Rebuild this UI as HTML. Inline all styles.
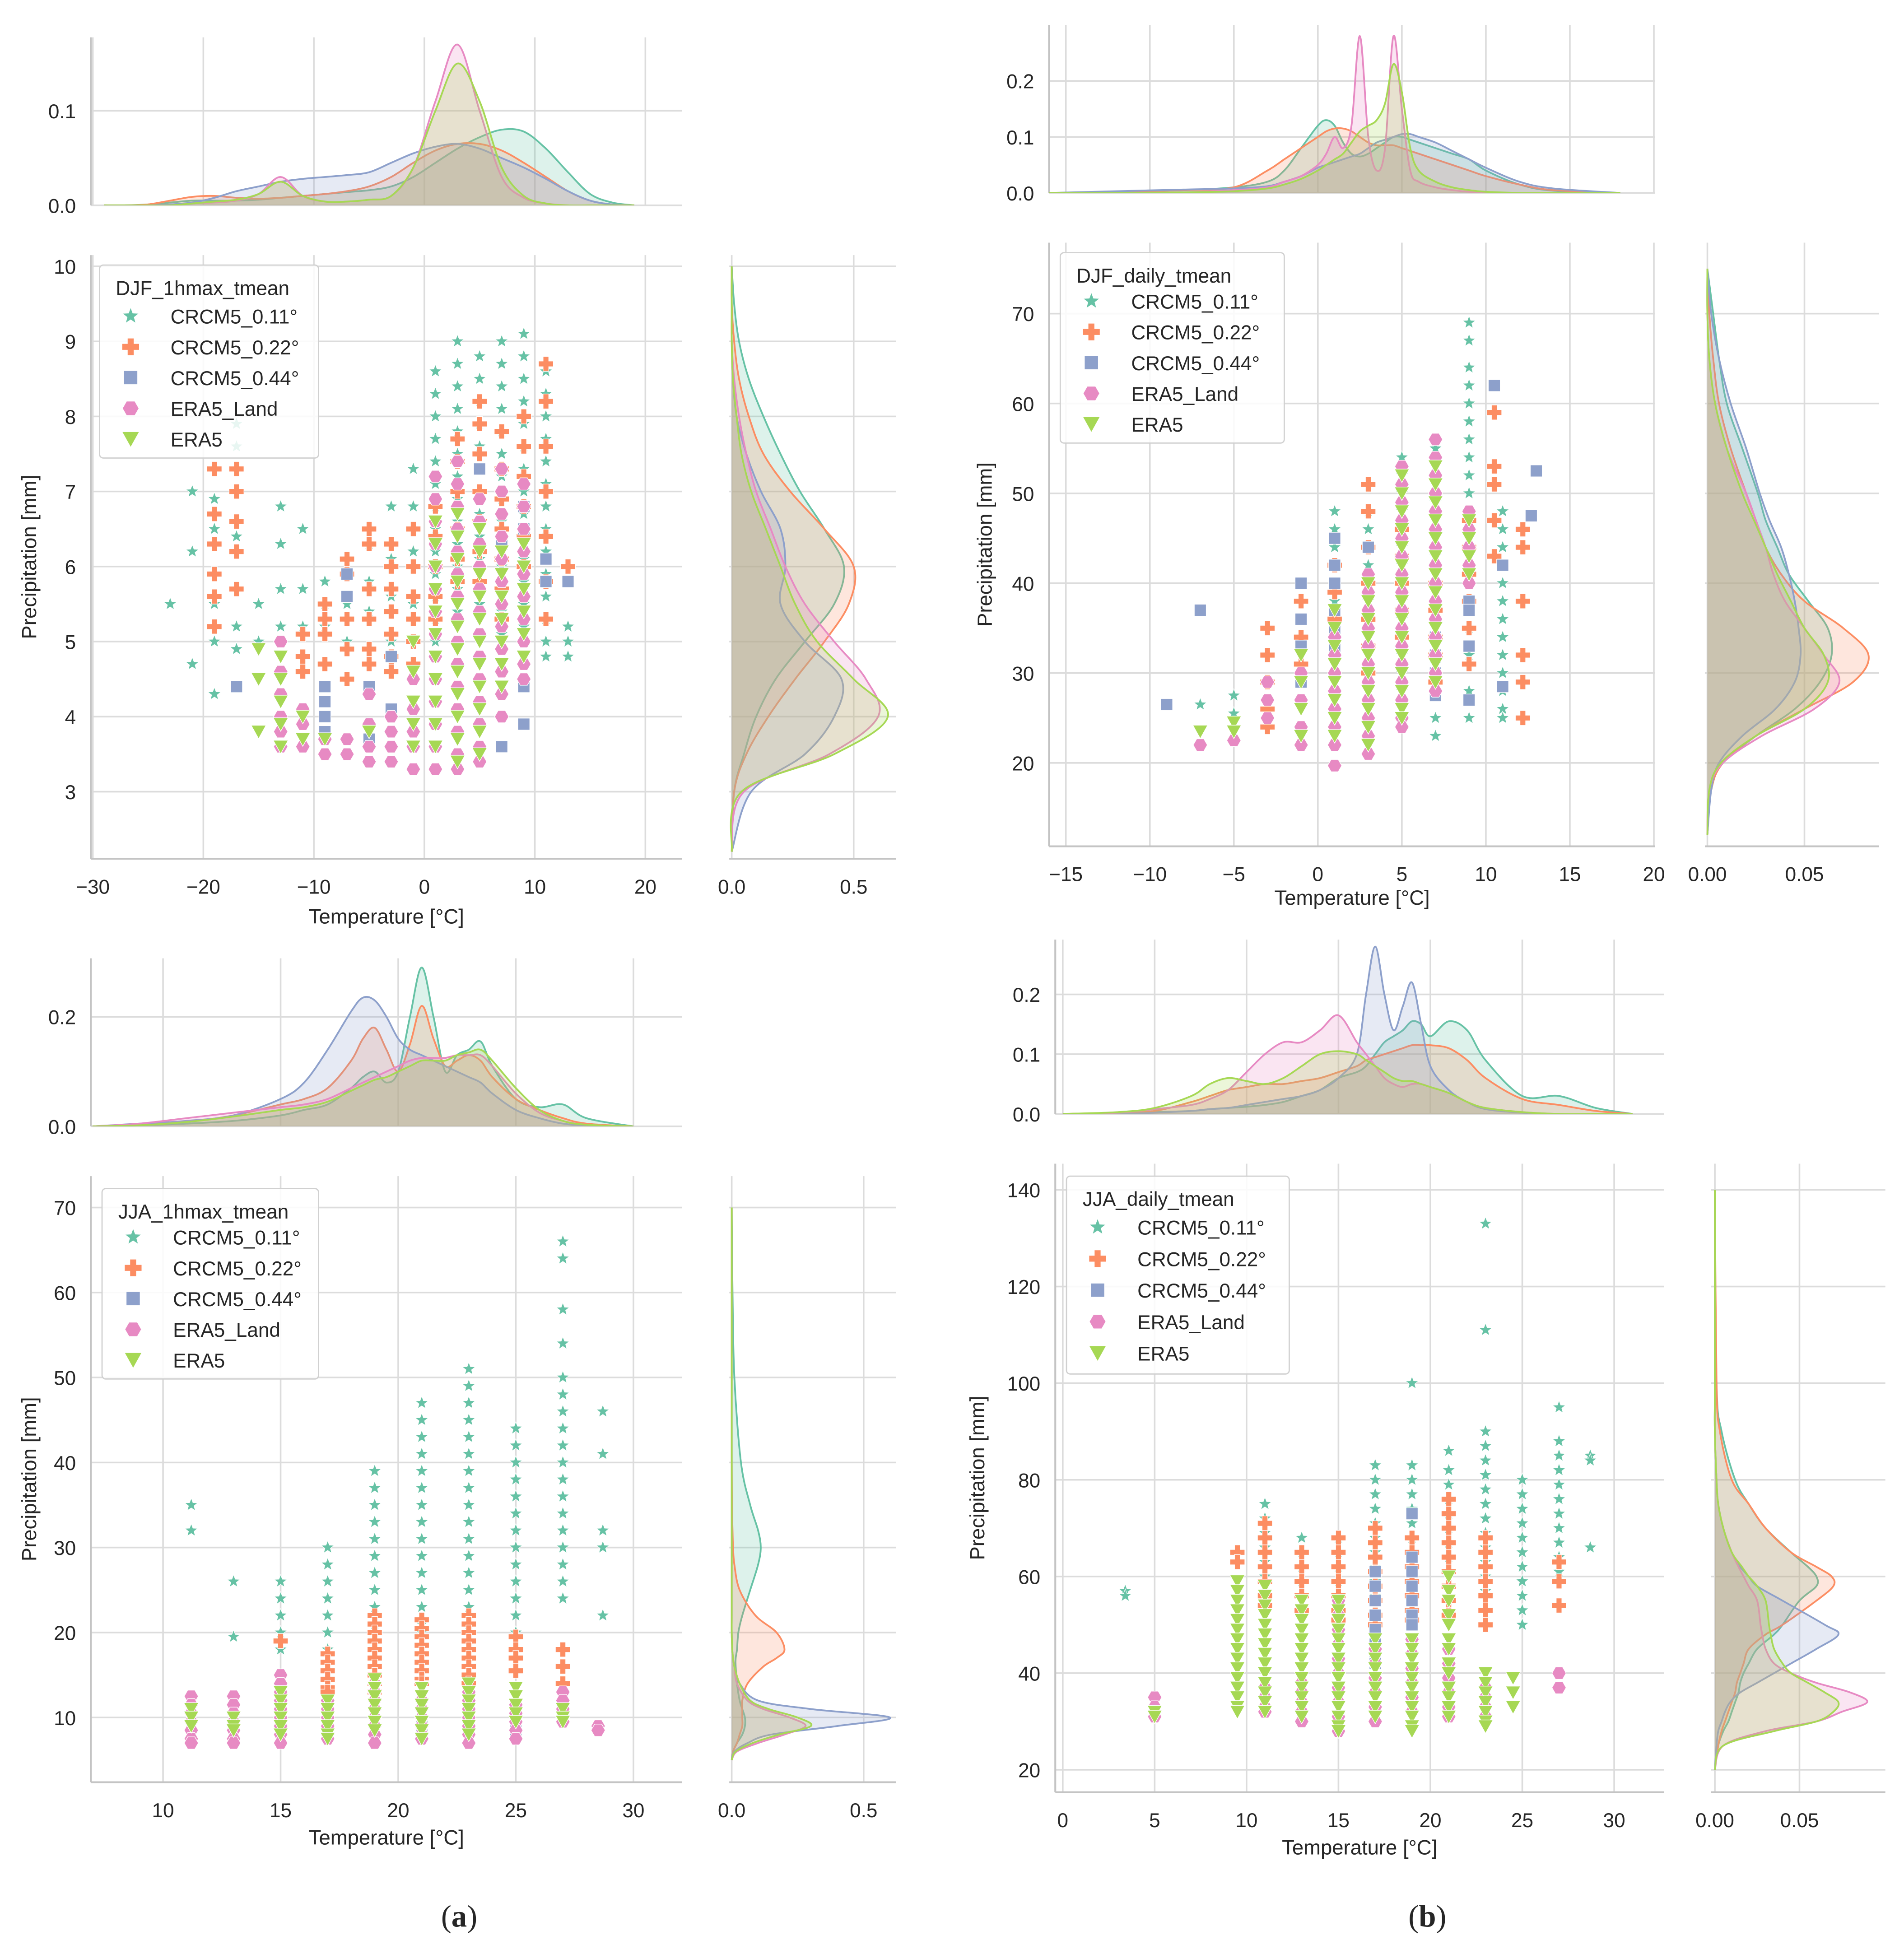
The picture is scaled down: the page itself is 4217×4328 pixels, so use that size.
<!DOCTYPE html>
<html><head><meta charset="utf-8">
<style>
html,body{margin:0;padding:0;background:#fff;}
svg{display:block;}
text{font-family:"Liberation Sans",Arial,sans-serif;fill:#262626;}
</style></head>
<body>
<svg id="fig" xmlns="http://www.w3.org/2000/svg" width="4217" height="4328" viewBox="0 0 1530 1570" preserveAspectRatio="none">
<rect x="0" y="0" width="1530" height="1570" fill="#fff"/>
<text x="369" y="1548" text-anchor="middle" font-size="25" style="font-family:'Liberation Serif',serif">(<tspan font-weight="bold">a</tspan>)</text>
<text x="1147" y="1548" text-anchor="middle" font-size="25" style="font-family:'Liberation Serif',serif">(<tspan font-weight="bold">b</tspan>)</text>
</svg>
<script>
const seriesNames = ["CRCM5_0.11°","CRCM5_0.22°","CRCM5_0.44°","ERA5_Land","ERA5"];
const seriesColors = ["#66c2a5","#fc8d62","#8da0cb","#e78ac3","#a6d854"];
const seriesKeys = ["crcm5-011","crcm5-022","crcm5-044","era5-land","era5"];

// ---------- Panel A: DJF_1hmax_tmean ----------
const A_xTicks = [-30,-20,-10,0,10,20];
const A_yTicks = [3,4,5,6,7,8,9,10];
const A_topTicks = [0,0.1];
const A_topTickLabels = ["0.0","0.1"];
const A_rightTicks = [0,0.5];
const A_rightTickLabels = ["0.0","0.5"];
const A_s011 = [[-23,[5.5]],[-21,[7.0,6.2,4.7]],[-19,[6.9,6.5,5.5,5.0,4.3]],[-17,[7.9,7.6,6.4,5.2,4.9]],[-15,[5.5,5.0]],[-13,[6.8,6.3,5.7,5.2]],[-11,[6.5,5.7,5.2]],[-9,[5.8,5.5,5.2]],[-7,[5.5,5.0]],[-5,[6.3,5.8,5.4]],[-3,[6.8,6.1,5.6,5.0]],[-1,[7.3,6.8,6.2,5.5]],[1,[8.6,8.3,8.0,7.7,7.4,7.1,6.8,6.5,6.2,5.9,5.6,5.3,5.0]],[3,[9.0,8.7,8.4,8.1,7.8,7.5,7.2,6.9,6.6,6.3,6.0,5.7,5.4]],[5,[8.8,8.5,8.2,7.9,7.6,7.3,7.0,6.7,6.4,6.1,5.8,5.5]],[7,[9.0,8.7,8.4,8.1,7.8,7.5,7.2,6.9,6.6,6.3,6.0,5.7,5.4,5.1]],[9,[9.1,8.8,8.5,8.2,7.9,7.6,7.3,7.0,6.7,6.4,6.1,5.8,5.5,5.2]],[11,[8.6,8.3,8.0,7.7,7.4,7.1,6.8,6.5,6.2,5.9,5.6,5.3,5.0,4.8]],[13,[5.2,5.0,4.8]]];
const A_s022 = [[-19,[7.3,6.7,6.3,5.9,5.6,5.2]],[-17,[7.3,7.0,6.6,6.2,5.7]],[-11,[5.1,4.8,4.6]],[-9,[5.5,5.3,5.1,4.7]],[-7,[6.1,5.9,5.3,4.9,4.5]],[-5,[6.5,6.3,5.7,5.3,4.9,4.7]],[-3,[6.3,6.0,5.7,5.4,5.1,4.8,4.6]],[-1,[6.5,6.0,5.6,5.3,5.0,4.7]],[1,[6.8,6.4,6.0,5.6,5.3]],[3,[7.7,7.4,7.0,6.5,6.1,5.8]],[5,[8.2,7.9,7.5,7.0,6.6,6.2,5.8]],[7,[7.8,7.3,6.9,6.5,6.1,5.7,5.3]],[9,[8.0,7.6,7.2,6.8,6.4,6.0]],[11,[8.7,8.2,7.6,7.0,6.4,5.8,5.3]],[13,[6.0]]];
const A_s044 = [[-17,[4.4]],[-9,[4.4,4.2,4.0,3.8]],[-7,[5.9,5.6]],[-5,[4.4,3.7]],[-3,[4.8,4.1]],[5,[7.3]],[7,[6.3,3.6]],[9,[6.8,6.5,4.4,3.9]],[11,[6.1,5.8]],[13,[5.8]]];
const A_sLand = [[-13,[5.0,4.6,4.3,4.0,3.8,3.6]],[-11,[4.1,3.9,3.6]],[-9,[3.7,3.5]],[-7,[3.7,3.5]],[-5,[4.3,3.9,3.6,3.4]],[-3,[4.0,3.8,3.6,3.4]],[-1,[4.5,4.1,3.8,3.6,3.3]],[1,[7.2,6.9,6.6,6.3,6.0,5.7,5.4,5.1,4.8,4.5,4.2,3.9,3.6,3.3]],[3,[7.4,7.1,6.8,6.5,6.2,5.9,5.6,5.3,5.0,4.7,4.4,4.1,3.8,3.5,3.3]],[5,[6.9,6.6,6.3,6.0,5.7,5.4,5.1,4.8,4.5,4.2,3.9,3.6,3.4]],[7,[7.3,7.0,6.7,6.4,6.1,5.8,5.5,5.2,4.9,4.6,4.3,4.0]],[9,[7.1,6.8,6.5,6.2,5.9,5.6,5.3,5.0,4.7,4.5]]];
const A_sEra5 = [[-15,[4.9,4.5,3.8]],[-13,[4.8,4.5,4.2,3.9,3.6]],[-11,[4.0,3.7]],[-9,[3.7]],[-5,[3.8]],[-1,[5.0,4.6,4.2,3.9,3.6]],[1,[6.6,6.3,6.0,5.7,5.4,5.1,4.8,4.5,4.2,3.9,3.6]],[3,[6.7,6.4,6.1,5.8,5.5,5.2,4.9,4.6,4.3,4.0,3.7,3.4]],[5,[6.5,6.2,5.9,5.6,5.3,5.0,4.7,4.4,4.1,3.8,3.5]],[7,[6.2,5.9,5.6,5.3,5.0,4.7,4.4]],[9,[6.3,6.0,5.7,5.4,5.1,4.8]]];
const A_topGrid = [-29,-27,-25,-23,-21,-19,-17,-15,-13,-11,-9,-7,-5,-3,-1,1,3,5,7,9,11,13,15,17,19];
const A_top011 = [0,0,0.001,0.003,0.005,0.005,0.005,0.006,0.008,0.01,0.012,0.014,0.016,0.02,0.03,0.045,0.06,0.072,0.08,0.078,0.06,0.035,0.012,0.003,0];
const A_top022 = [0,0,0.001,0.005,0.009,0.01,0.008,0.007,0.008,0.01,0.012,0.015,0.02,0.03,0.045,0.058,0.065,0.065,0.058,0.045,0.03,0.015,0.005,0.001,0];
const A_top044 = [0,0,0,0.001,0.003,0.008,0.015,0.02,0.025,0.028,0.03,0.032,0.035,0.045,0.055,0.062,0.065,0.06,0.05,0.04,0.028,0.015,0.005,0.001,0];
const A_topLand = [0,0,0,0,0.002,0.003,0.005,0.012,0.03,0.01,0.004,0.004,0.006,0.01,0.04,0.11,0.17,0.1,0.03,0.008,0.002,0,0,0,0];
const A_topEra5 = [0,0,0,0,0.002,0.004,0.006,0.012,0.025,0.01,0.004,0.004,0.006,0.01,0.04,0.1,0.15,0.11,0.04,0.01,0.002,0,0,0,0];
const A_rightGrid = [2.2,3,3.5,4,4.5,5,5.5,6,6.5,7,7.5,8,8.5,9,9.5,10];
const A_right011 = [0,0.01,0.05,0.1,0.18,0.3,0.42,0.46,0.38,0.28,0.2,0.13,0.07,0.03,0.01,0];
const A_right022 = [0,0.01,0.06,0.15,0.26,0.38,0.48,0.5,0.38,0.24,0.13,0.07,0.03,0.01,0,0];
const A_right044 = [0,0.08,0.3,0.42,0.45,0.3,0.2,0.22,0.2,0.12,0.06,0.02,0.005,0,0,0];
const A_rightLand = [0,0.05,0.4,0.6,0.55,0.42,0.3,0.22,0.16,0.1,0.06,0.03,0.01,0,0,0];
const A_rightEra5 = [0,0.04,0.42,0.64,0.5,0.35,0.26,0.2,0.14,0.08,0.04,0.02,0.005,0,0,0];

// ---------- Panel B: DJF_daily_tmean ----------
const B_xTicks = [-15,-10,-5,0,5,10,15,20];
const B_yTicks = [20,30,40,50,60,70];
const B_topTicks = [0,0.1,0.2];
const B_topTickLabels = ["0.0","0.1","0.2"];
const B_rightTicks = [0,0.05];
const B_rightTickLabels = ["0.00","0.05"];
const B_s011 = [[-7,[26.5]],[-5,[27.5,25.5]],[-1,[34,31]],[1,[48,46,44,42,40,38,36,35]],[3,[48,46,44,42,40,38,36]],[5,[54,52,50,48,46,44,42,40,38,36,34,32,30,28,27]],[7,[55,52,49,46,43,40,37,34,31,28,25,23]],[9,[69,67,64,62,60,58,56,54,52,50,48,46,44,42,40,38,35,32,28,25]],[11,[48,46,44,42,40,38,36,34,32,30,28,26,25]]];
const B_s022 = [[-3,[35,32,29,26,24]],[-1,[38,34,31]],[1,[42,39,36]],[3,[51,48,44,40,36,33,30]],[5,[46,43,40,37,34]],[7,[40,37,34,32,29]],[9,[47,44,41,38,35,31]],[10.5,[59,53,51,47,43]],[12.2,[46,44,38,32,29,25]]];
const B_s044 = [[-9,[26.5]],[-7,[37]],[-1,[40,36,33,29]],[1,[45,42,40,37,35,33]],[3,[44]],[7,[34,32,30,27.5]],[9,[38,37,33,27]],[10.5,[62]],[11,[42,28.5]],[12.7,[47.5]],[13,[52.5]]];
const B_sLand = [[-7,[22]],[-5,[22.5]],[-3,[29,27,25]],[-1,[30,27,24,22]],[1,[34,32,30,28,26,24,22,19.7]],[3,[41,39,37,35,33,31,29,27,25,23,21]],[5,[53,51,49,47,45,43,41,39,37,35,33,31,29,27,25,24]],[7,[56,54,52,50,48,46,44,42,40,38,36,34,32,30,28]],[9,[48,46,44,42,40]]];
const B_sEra5 = [[-7,[23.5]],[-5,[24.5,23.5]],[-1,[32,29,26,23]],[1,[37,35,33,31,29,27,25,23]],[3,[40,38,36,34,32,30,28,26,24,22]],[5,[52,50,48,46,44,42,40,38,36,34,32,30,28,26,25]],[7,[53,51,49,47,45,43,41,39,37,35,33,31,29]],[9,[47,45,43,41]]];
const B_topGrid = [-16,-12,-8,-5,-3,-2,-1,0,0.5,1,1.5,2,2.5,3,3.5,4,4.5,5,5.5,6,7,8,9,10,12,14,18];
const B_top011 = [0,0.002,0.005,0.01,0.02,0.04,0.08,0.12,0.13,0.12,0.09,0.07,0.065,0.07,0.08,0.09,0.1,0.1,0.095,0.09,0.08,0.07,0.06,0.04,0.015,0.004,0];
const B_top022 = [0,0.002,0.005,0.01,0.04,0.06,0.08,0.1,0.11,0.115,0.115,0.11,0.1,0.09,0.085,0.085,0.085,0.08,0.075,0.07,0.06,0.05,0.04,0.03,0.015,0.005,0];
const B_top044 = [0,0.003,0.006,0.008,0.012,0.02,0.03,0.045,0.05,0.055,0.06,0.065,0.07,0.08,0.09,0.095,0.1,0.105,0.105,0.1,0.09,0.075,0.06,0.045,0.02,0.008,0];
const B_topLand = [0,0,0.001,0.005,0.01,0.02,0.03,0.05,0.07,0.1,0.08,0.12,0.28,0.1,0.04,0.08,0.28,0.15,0.04,0.02,0.01,0.005,0.002,0.001,0,0,0];
const B_topEra5 = [0,0,0.001,0.003,0.008,0.015,0.025,0.04,0.05,0.06,0.07,0.09,0.11,0.12,0.13,0.16,0.23,0.18,0.08,0.04,0.02,0.01,0.005,0.002,0,0,0];
const B_rightGrid = [12,17,20,23,26,29,32,35,38,41,44,47,50,55,60,65,70,75];
const B_right011 = [0,0.002,0.008,0.025,0.045,0.058,0.064,0.062,0.052,0.042,0.036,0.03,0.026,0.018,0.01,0.006,0.003,0];
const B_right022 = [0,0.002,0.008,0.025,0.05,0.075,0.083,0.07,0.05,0.038,0.03,0.025,0.02,0.012,0.006,0.003,0.001,0];
const B_right044 = [0,0.002,0.006,0.018,0.035,0.045,0.048,0.047,0.045,0.042,0.038,0.032,0.027,0.02,0.012,0.006,0.002,0];
const B_rightLand = [0,0.001,0.008,0.028,0.055,0.068,0.06,0.05,0.04,0.034,0.03,0.025,0.02,0.01,0.004,0.001,0,0];
const B_rightEra5 = [0,0.001,0.007,0.025,0.05,0.062,0.06,0.05,0.043,0.036,0.03,0.024,0.018,0.01,0.004,0.001,0,0];

// ---------- Panel C: JJA_1hmax_tmean ----------
const C_xTicks = [10,15,20,25,30];
const C_yTicks = [10,20,30,40,50,60,70];
const C_topTicks = [0,0.2];
const C_topTickLabels = ["0.0","0.2"];
const C_rightTicks = [0,0.5];
const C_rightTickLabels = ["0.0","0.5"];
const C_s011 = [[11.2,[35,32,12]],[13,[26,19.5]],[15,[26,24,22,20,18]],[17,[30,28,26,24,22,20,18]],[19,[39,37,35,33,31,29,27,25,23,21]],[21,[47,45,43,41,39,37,35,33,31,29,27,25,23,21,20]],[23,[51,49,47,45,43,41,39,37,35,33,31,29,27,25,23,21]],[25,[44,42,40,38,36,34,32,30,28,26,24,22,20]],[27,[66,64,58,54,50,48,46,44,42,40,38,36,34,32,30,28,26,24]],[28.7,[46,41,32,30,22]]];
const C_s022 = [[15,[19]],[17,[17.5,16.5,15.5,14.5,13.5,13]],[19,[22,21,20,19,18,17,16,15,14,13]],[21,[21.5,20.5,19.5,18.5,17.5,16.5,15.5,14.5,14]],[23,[22,21,20,19,18,17,16,15,14]],[25,[19.5,18,17,15.5]],[27,[18,16,14]]];
const C_s044 = [[21,[8,9]],[23,[9]],[25,[8.5]]];
const C_sLand = [[11.2,[12.5,11.5,10.5,9.5,8.5,7.5,7]],[13,[12.5,11.5,10.5,9.5,8.5,7.5,7]],[15,[15,14,13,12,11,10,9,8,7]],[17,[12,11,10,9,8,7.5]],[19,[14,13,12,11,10,9,8,7]],[21,[12,11,10,9,8,7.5]],[23,[13,12,11,10,9,8,7]],[25,[11.5,10.5,9.5,8.5,7.5]],[27,[13,12,11,10,9.5]],[28.5,[9,8.5]]];
const C_sEra5 = [[11.2,[11,10,9]],[13,[10,9,8.5]],[15,[13,12,11,10,9,8]],[17,[12,11,10,9,8,7.5]],[19,[14.5,13.5,12.5,11.5,10.5,9.5,8.5]],[21,[13.5,12.5,11.5,10.5,9.5,8.5,7.5]],[23,[14,13,12,11,10,9,8]],[25,[13.5,12.5,11.5,10.5,9.5]],[27,[11,10,9.5]]];
const C_topGrid = [7,9,11,13,15,16,17,18,18.5,19,19.5,20,20.5,21,21.5,22,22.5,23,23.5,24,25,26,27,28,30];
const C_top011 = [0,0.002,0.005,0.01,0.02,0.03,0.04,0.07,0.09,0.1,0.08,0.1,0.2,0.29,0.2,0.1,0.13,0.14,0.155,0.11,0.05,0.035,0.04,0.015,0];
const C_top022 = [0,0.003,0.008,0.02,0.04,0.05,0.07,0.12,0.16,0.18,0.14,0.1,0.15,0.22,0.16,0.11,0.12,0.13,0.12,0.09,0.05,0.03,0.015,0.005,0];
const C_top044 = [0,0.005,0.01,0.02,0.05,0.08,0.14,0.21,0.235,0.23,0.2,0.16,0.14,0.13,0.12,0.11,0.1,0.09,0.08,0.06,0.03,0.015,0.005,0.002,0];
const C_topLand = [0,0.005,0.015,0.025,0.035,0.04,0.05,0.07,0.08,0.09,0.1,0.11,0.12,0.125,0.125,0.125,0.13,0.13,0.13,0.11,0.06,0.025,0.01,0.003,0];
const C_topEra5 = [0,0.002,0.008,0.018,0.03,0.035,0.045,0.065,0.075,0.085,0.09,0.1,0.11,0.12,0.12,0.12,0.13,0.135,0.14,0.12,0.07,0.03,0.01,0.003,0];
const C_rightGrid = [5,6,7,8,9,10,11,12,14,16,17,18,20,22,25,28,30,32,35,40,50,60,70];
const C_right011 = [0,0.005,0.02,0.04,0.05,0.05,0.04,0.03,0.02,0.015,0.015,0.02,0.025,0.04,0.07,0.1,0.11,0.1,0.07,0.035,0.01,0.003,0];
const C_right022 = [0,0.005,0.02,0.03,0.04,0.04,0.04,0.04,0.06,0.12,0.17,0.2,0.17,0.09,0.03,0.01,0.005,0.003,0.001,0,0,0,0];
const C_right044 = [0,0.01,0.06,0.15,0.4,0.6,0.3,0.1,0.03,0.01,0.005,0.002,0,0,0,0,0,0,0,0,0,0,0];
const C_rightLand = [0,0.02,0.1,0.2,0.28,0.22,0.12,0.06,0.02,0.01,0.005,0.002,0,0,0,0,0,0,0,0,0,0,0];
const C_rightEra5 = [0,0.015,0.08,0.18,0.3,0.25,0.14,0.07,0.03,0.01,0.005,0.002,0,0,0,0,0,0,0,0,0,0,0];

// ---------- Panel D: JJA_daily_tmean ----------
const D_xTicks = [0,5,10,15,20,25,30];
const D_yTicks = [20,40,60,80,100,120,140];
const D_topTicks = [0,0.1,0.2];
const D_topTickLabels = ["0.0","0.1","0.2"];
const D_rightTicks = [0,0.05];
const D_rightTickLabels = ["0.00","0.05"];
const D_s011 = [[3.4,[57,56]],[11,[75,72,69,66,63,60,57,55]],[13,[68,65,62,59,56]],[15,[68,65,62,59,56]],[17,[83,80,77,74,71,68,65,62,59,56]],[19,[100,83,80,77,74,71,68,65,62,60]],[21,[86,82,79,76,73,70,67,64,61,58,56]],[23,[133,111,90,87,84,81,78,75,72,69,66,63,60,57]],[25,[80,77,74,71,68,65,62,59,56,53,50]],[27,[95,88,85,82,79,76,73,70,67,64,61]],[28.7,[85,84,66]]];
const D_s022 = [[9.5,[65,63]],[11,[71,68,65,62,59,56,54]],[13,[65,62,59,56,53]],[15,[68,65,62,59,56,53,51]],[17,[70,67,64,61,58,55,52,50]],[19,[68,65,62,59,56,53,51]],[21,[76,73,70,67,64,61,58,55,52]],[23,[68,65,62,59,56,53,50]],[27,[63,59,54]]];
const D_s044 = [[17,[61,58,55,52,49,46,44,42]],[19,[73,64,61,58,55,52,50]]];
const D_sLand = [[5,[35,33,31]],[11,[37,35,33,32]],[13,[38,36,34,32,30]],[15,[55,52,49,46,43,40,37,34,31,28]],[17,[45,42,39,36,33,30]],[19,[47,44,41,38,35,32]],[21,[45,42,39,36,33,31]],[23,[37,35,33,31]],[27,[40,37]]];
const D_sEra5 = [[5,[32,31]],[9.5,[59,57,55,53,51,49,47,45,43,41,39,37,35,33,32]],[11,[58,56,54,52,50,48,46,44,42,40,38,36,34,32]],[13,[55,53,51,49,47,45,43,41,39,37,35,33,31]],[15,[55,53,51,49,47,45,43,41,39,37,35,33,31,29,28]],[17,[47,45,43,41,39,37,35,33,31]],[19,[47,45,43,41,39,37,35,33,31,29,28]],[21,[60,57,55,52,50,47,45,42,40,37,35,33,31]],[23,[40,38,36,34,32,30,29]],[24.5,[39,36,33]]];
const D_topGrid = [0,3,5,7,8,9,10,11,12,13,14,15,16,16.5,17,17.5,18,18.5,19,19.5,20,21,22,23,25,27,29,31];
const D_top011 = [0,0,0.003,0.005,0.008,0.01,0.012,0.015,0.02,0.03,0.04,0.06,0.07,0.08,0.1,0.12,0.13,0.14,0.155,0.15,0.13,0.155,0.14,0.09,0.03,0.03,0.01,0];
const D_top022 = [0,0.002,0.005,0.02,0.03,0.04,0.045,0.05,0.05,0.055,0.06,0.07,0.08,0.09,0.095,0.1,0.105,0.11,0.115,0.115,0.115,0.11,0.09,0.06,0.025,0.015,0.005,0];
const D_top044 = [0,0,0.002,0.005,0.008,0.01,0.015,0.02,0.025,0.03,0.04,0.06,0.1,0.2,0.28,0.2,0.14,0.18,0.22,0.15,0.08,0.04,0.02,0.008,0.002,0,0,0];
const D_topLand = [0,0.002,0.008,0.015,0.025,0.04,0.07,0.1,0.12,0.12,0.14,0.165,0.12,0.1,0.08,0.06,0.05,0.045,0.05,0.05,0.045,0.035,0.02,0.01,0.003,0,0,0];
const D_topEra5 = [0,0.003,0.01,0.03,0.05,0.06,0.055,0.05,0.06,0.08,0.1,0.105,0.1,0.09,0.08,0.07,0.06,0.055,0.055,0.05,0.045,0.035,0.02,0.01,0.003,0,0,0];
const D_rightGrid = [20,25,28,30,32,34,36,38,40,42,45,48,50,55,58,60,62,65,70,75,80,90,100,140];
const D_right011 = [0,0.002,0.005,0.008,0.01,0.012,0.014,0.015,0.017,0.02,0.025,0.035,0.04,0.05,0.06,0.06,0.055,0.045,0.03,0.02,0.012,0.004,0.001,0];
const D_right022 = [0,0.002,0.004,0.006,0.008,0.01,0.012,0.013,0.015,0.017,0.02,0.03,0.04,0.06,0.07,0.069,0.06,0.045,0.03,0.02,0.01,0.003,0.001,0];
const D_right044 = [0,0.001,0.002,0.004,0.006,0.009,0.015,0.025,0.035,0.045,0.06,0.073,0.065,0.04,0.025,0.02,0.015,0.01,0.005,0.002,0.001,0,0,0];
const D_rightLand = [0,0.005,0.03,0.06,0.075,0.09,0.08,0.06,0.045,0.035,0.03,0.028,0.027,0.025,0.02,0.017,0.014,0.01,0.005,0.002,0.001,0,0,0];
const D_rightEra5 = [0,0.005,0.035,0.06,0.07,0.073,0.065,0.055,0.045,0.04,0.035,0.033,0.032,0.03,0.025,0.02,0.016,0.01,0.005,0.002,0.001,0,0,0];

const NS = "http://www.w3.org/2000/svg";
const svg = document.getElementById("fig");
function mk(tag, attrs, parent){
  const e = document.createElementNS(NS, tag);
  for (const k in attrs) e.setAttribute(k, attrs[k]);
  (parent||svg).appendChild(e);
  return e;
}
const GRID = "#dcdcdc", SPINE = "#c4c4c4";

function marker(g, type, cx, cy, color, s){
  let e;
  if (type === 0) {
    let pts = [];
    for (let i=0;i<10;i++){ const r = i%2?s*0.42:s; const a = -Math.PI/2 + i*Math.PI/5; pts.push((cx+r*Math.cos(a)).toFixed(2)+","+(cy+r*Math.sin(a)).toFixed(2)); }
    e = mk("polygon",{points:pts.join(" "),fill:color,stroke:"#fff","stroke-width":0.4},g);
  } else if (type === 1) {
    const a = s, w = s*0.38;
    const p = [[-w,-a],[w,-a],[w,-w],[a,-w],[a,w],[w,w],[w,a],[-w,a],[-w,w],[-a,w],[-a,-w],[-w,-w]];
    e = mk("polygon",{points:p.map(q=>(cx+q[0]).toFixed(2)+","+(cy+q[1]).toFixed(2)).join(" "),fill:color,stroke:"#fff","stroke-width":0.5},g);
  } else if (type === 2) {
    e = mk("rect",{x:cx-s*0.8,y:cy-s*0.8,width:s*1.6,height:s*1.6,fill:color,stroke:"#fff","stroke-width":0.5},g);
  } else if (type === 3) {
    let pts=[];
    for (let i=0;i<6;i++){ const a = i*Math.PI/3; pts.push((cx+s*0.95*Math.cos(a)).toFixed(2)+","+(cy+s*0.95*Math.sin(a)).toFixed(2)); }
    e = mk("polygon",{points:pts.join(" "),fill:color,stroke:"#fff","stroke-width":0.5},g);
  } else {
    e = mk("polygon",{points:[(cx-s)+","+(cy-s*0.85),(cx+s)+","+(cy-s*0.85),cx+","+(cy+s*0.95)].join(" "),fill:color,stroke:"#fff","stroke-width":0.5},g);
  }
  return e;
}

function smoothPath(pts){
  let d = "M"+pts[0][0].toFixed(2)+","+pts[0][1].toFixed(2);
  for (let i=0;i<pts.length-1;i++){
    const p0 = pts[Math.max(0,i-1)], p1 = pts[i], p2 = pts[i+1], p3 = pts[Math.min(pts.length-1,i+2)];
    const c1 = [p1[0]+(p2[0]-p0[0])/6, p1[1]+(p2[1]-p0[1])/6];
    const c2 = [p2[0]-(p3[0]-p1[0])/6, p2[1]-(p3[1]-p1[1])/6];
    d += " C"+c1[0].toFixed(2)+","+c1[1].toFixed(2)+" "+c2[0].toFixed(2)+","+c2[1].toFixed(2)+" "+p2[0].toFixed(2)+","+p2[1].toFixed(2);
  }
  return d;
}

let clipId = 0;
function clipRect(x,y,w,h){
  const id = "clip"+(clipId++);
  const cp = mk("clipPath",{id:id});
  mk("rect",{x:x,y:y,width:w,height:h},cp);
  return "url(#"+id+")";
}

function drawPanel(P){
  const g = mk("g",{});
  
  
  const m = P.main;
  const grid = mk("g",{},g);
  
  
  P.xTicks.forEach(v=>{ const x = P.xs(v); mk("line",{x1:x,x2:x,y1:m.y0,y2:m.y1,stroke:GRID,"stroke-width":1.3},grid);
    mk("line",{x1:x,x2:x,y1:P.top.y0,y2:P.top.y1,stroke:GRID,"stroke-width":1.3},grid); });
  P.yTicks.forEach(v=>{ const y = P.ys(v); mk("line",{x1:m.x0,x2:m.x1,y1:y,y2:y,stroke:GRID,"stroke-width":1.3},grid);
    mk("line",{x1:P.right.x0,x2:P.right.x1,y1:y,y2:y,stroke:GRID,"stroke-width":1.3},grid); });
  P.topTicks.forEach(v=>{ const y = P.ty(v); mk("line",{x1:m.x0,x2:m.x1,y1:y,y2:y,stroke:GRID,"stroke-width":1.3},grid); });
  P.rightTicks.forEach(v=>{ const x = P.rx(v); mk("line",{x1:x,x2:x,y1:m.y0,y2:m.y1,stroke:GRID,"stroke-width":1.3},grid); });
  mk("line",{x1:m.x0,x2:m.x0,y1:m.y0,y2:m.y1,stroke:SPINE,"stroke-width":1.5},g);
  mk("line",{x1:m.x0,x2:m.x1,y1:m.y1,y2:m.y1,stroke:SPINE,"stroke-width":1.5},g);
  mk("line",{x1:m.x0,x2:m.x0,y1:P.top.y0,y2:P.top.y1,stroke:SPINE,"stroke-width":1.5},g);
  mk("line",{x1:P.right.x0,x2:P.right.x1,y1:m.y1,y2:m.y1,stroke:SPINE,"stroke-width":1.5},g);
  P.xTicks.forEach(v=>{ const t = mk("text",{x:P.xs(v),y:m.y1+28,"text-anchor":"middle","font-size":16},g);
    t.textContent = (v<0?"\u2212"+(-v):String(v));
    
     });
  P.yTicks.forEach(v=>{ const t = mk("text",{x:m.x0-12,y:P.ys(v)+6,"text-anchor":"end","font-size":16},g);
    t.textContent = String(v);
    
     });
  P.topTicks.forEach((v,i)=>{ const t = mk("text",{x:m.x0-12,y:P.ty(v)+6,"text-anchor":"end","font-size":16},g);
    t.textContent = P.topTickLabels[i];
    
     });
  P.rightTicks.forEach((v,i)=>{ const t = mk("text",{x:P.rx(v),y:m.y1+28,"text-anchor":"middle","font-size":16},g);
    t.textContent = P.rightTickLabels[i];
    
     });
  const xt = mk("text",{x:(m.x0+m.x1)/2,y:m.y1+P.xtOff,"text-anchor":"middle","font-size":16.5},g);
  xt.textContent = "Temperature [°C]";
  
  
  const yt = mk("text",{x:0,y:0,"text-anchor":"middle","font-size":16.5,transform:"translate("+P.ytX+","+((m.y0+m.y1)/2)+") rotate(-90)"},g);
  yt.textContent = "Precipitation [mm]";
  
  
  const tc = clipRect(m.x0, P.top.y0, m.x1-m.x0, P.top.y1-P.top.y0);
  const tg = mk("g",{"clip-path":tc},g);
  
  
  P.topSeries.forEach((arr,si)=>{
    const pts = P.topGrid.map((x,i)=>[P.xs(x), P.ty(arr[i])]);
    const d = smoothPath(pts);
    const base = P.ty(0);
    const f = mk("path",{d:d+" L"+pts[pts.length-1][0]+","+base+" L"+pts[0][0]+","+base+" Z",fill:seriesColors[si],"fill-opacity":0.22,stroke:"none"},tg);
    
    
    const l = mk("path",{d:d,fill:"none",stroke:seriesColors[si],"stroke-width":1.4},tg);
    
    
  });
  const rc = clipRect(P.right.x0, m.y0, P.right.x1-P.right.x0, m.y1-m.y0);
  const rg = mk("g",{"clip-path":rc},g);
  
  
  P.rightSeries.forEach((arr,si)=>{
    const pts = P.rightGrid.map((y,i)=>[P.rx(arr[i]), P.ys(y)]);
    const d = smoothPath(pts);
    const base = P.rx(0);
    const f = mk("path",{d:d+" L"+base+","+pts[pts.length-1][1]+" L"+base+","+pts[0][1]+" Z",fill:seriesColors[si],"fill-opacity":0.22,stroke:"none"},rg);
    
    
    const l = mk("path",{d:d,fill:"none",stroke:seriesColors[si],"stroke-width":1.4},rg);
    
    
  });
  const sc = clipRect(m.x0, m.y0, m.x1-m.x0, m.y1-m.y0);
  const sg = mk("g",{"clip-path":sc},g);
  
  
  P.scatter.forEach((ser,si)=>{
    ser.forEach(col=>{
      col[1].forEach(v=>{
        const e = marker(sg, si, P.xs(col[0]), P.ys(v), seriesColors[si], si===0?5.5:6);
        
        
      });
    });
  });
  const L = P.legend;
  const lg = mk("g",{},g);
  
  
  mk("rect",{x:L.x,y:L.y,width:L.w,height:L.h,rx:3,fill:"#fff","fill-opacity":0.85,stroke:"#d0d0d0","stroke-width":1},lg);
  const lt = mk("text",{x:L.x+13,y:L.y+24,"font-size":16},lg);
  lt.textContent = P.title;
  
  
  seriesNames.forEach((nm,si)=>{
    const cy = L.y+L.first+si*L.step;
    const e = marker(lg, si, L.x+25, cy, seriesColors[si], 7);
    
    
    const t = mk("text",{x:L.x+57,y:cy+6,"font-size":16},lg);
    t.textContent = nm;
    
    
  });
}

drawPanel({name:"panel-djf-1hmax", title:"DJF_1hmax_tmean",
  main:{x0:73,x1:548,y0:205,y1:690}, top:{y0:30,y1:165}, right:{x0:586,x1:720},
  xs:v=>341+8.88*v, ys:v=>214+(10-v)*60.3, ty:d=>165-d*760, rx:d=>588+d*196,
  xTicks:A_xTicks, yTicks:A_yTicks, topTicks:A_topTicks, topTickLabels:A_topTickLabels, rightTicks:A_rightTicks, rightTickLabels:A_rightTickLabels,
  scatter:[A_s011,A_s022,A_s044,A_sLand,A_sEra5],
  topGrid:A_topGrid, topSeries:[A_top011,A_top022,A_top044,A_topLand,A_topEra5],
  rightGrid:A_rightGrid, rightSeries:[A_right011,A_right022,A_right044,A_rightLand,A_rightEra5],
  xtOff:52, ytX:29, legend:{x:80,y:213,w:176,h:155,first:41,step:24.7}});

drawPanel({name:"panel-djf-daily", title:"DJF_daily_tmean",
  main:{x0:843,x1:1330,y0:195,y1:680}, top:{y0:20,y1:155}, right:{x0:1370,x1:1510},
  xs:v=>1059+13.5*v, ys:v=>613-(v-20)*7.22, ty:d=>155-d*450, rx:d=>1372+d*1560,
  xTicks:B_xTicks, yTicks:B_yTicks, topTicks:B_topTicks, topTickLabels:B_topTickLabels, rightTicks:B_rightTicks, rightTickLabels:B_rightTickLabels,
  scatter:[B_s011,B_s022,B_s044,B_sLand,B_sEra5],
  topGrid:B_topGrid, topSeries:[B_top011,B_top022,B_top044,B_topLand,B_topEra5],
  rightGrid:B_rightGrid, rightSeries:[B_right011,B_right022,B_right044,B_rightLand,B_rightEra5],
  xtOff:47, ytX:797, legend:{x:852,y:203,w:180,h:153,first:39,step:24.7}});

drawPanel({name:"panel-jja-1hmax", title:"JJA_1hmax_tmean",
  main:{x0:73,x1:548,y0:945,y1:1432}, top:{y0:770,y1:905}, right:{x0:586,x1:720},
  xs:v=>131+(v-10)*18.9, ys:v=>1380-(v-10)*6.83, ty:d=>905-d*440, rx:d=>588+d*212,
  xTicks:C_xTicks, yTicks:C_yTicks, topTicks:C_topTicks, topTickLabels:C_topTickLabels, rightTicks:C_rightTicks, rightTickLabels:C_rightTickLabels,
  scatter:[C_s011,C_s022,C_s044,C_sLand,C_sEra5],
  topGrid:C_topGrid, topSeries:[C_top011,C_top022,C_top044,C_topLand,C_topEra5],
  rightGrid:C_rightGrid, rightSeries:[C_right011,C_right022,C_right044,C_rightLand,C_rightEra5],
  xtOff:50, ytX:29, legend:{x:82,y:955,w:174,h:153,first:39,step:24.7}});

drawPanel({name:"panel-jja-daily", title:"JJA_daily_tmean",
  main:{x0:848,x1:1337,y0:935,y1:1440}, top:{y0:755,y1:895}, right:{x0:1375,x1:1515},
  xs:v=>854+v*14.77, ys:v=>1422-(v-20)*3.883, ty:d=>895-d*480, rx:d=>1378+d*1360,
  xTicks:D_xTicks, yTicks:D_yTicks, topTicks:D_topTicks, topTickLabels:D_topTickLabels, rightTicks:D_rightTicks, rightTickLabels:D_rightTickLabels,
  scatter:[D_s011,D_s022,D_s044,D_sLand,D_sEra5],
  topGrid:D_topGrid, topSeries:[D_top011,D_top022,D_top044,D_topLand,D_topEra5],
  rightGrid:D_rightGrid, rightSeries:[D_right011,D_right022,D_right044,D_rightLand,D_rightEra5],
  xtOff:50, ytX:791, legend:{x:857,y:945,w:179,h:159,first:41,step:25.3}});
</script>
</body></html>
